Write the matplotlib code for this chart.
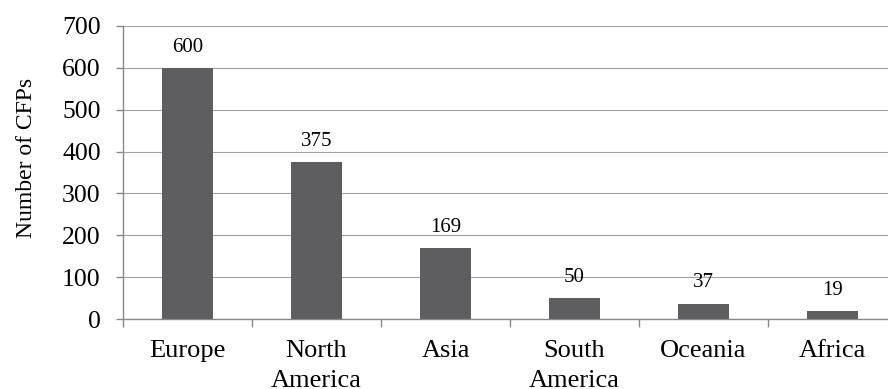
import matplotlib.pyplot as plt
import numpy as np

regions = ["Europe", "North\nAmerica", "Asia", "South\nAmerica", "Oceania", "Africa"]
cfps = [600, 375, 169, 50, 37, 19]
yticks = [0, 100, 200, 300, 400, 500, 600, 700]

plt.rcParams['font.family'] = ['Liberation Serif', 'DejaVu Serif']

fig = plt.figure(figsize=(8.88, 3.89), dpi=100)
ax = fig.add_axes([123 / 888, 70 / 389, 774 / 888, 293 / 389])

x = np.arange(len(regions))
ax.set_axisbelow(True)
ax.yaxis.grid(True, color='#a3a3a3', linewidth=0.8)
bars = ax.bar(x, cfps, width=0.4, color='#5e5e60', zorder=2)
for b, v in zip(bars, cfps):
    ax.annotate(str(v), (b.get_x() + b.get_width() / 2, v), xytext=(0, 8),
                textcoords='offset points', ha='center', va='bottom', fontsize=15)

ax.set_xlim(-0.5, len(regions) - 0.5)
ax.set_ylim(0, 700)
ax.set_yticks(yticks)
ax.tick_params(axis='y', labelsize=18.5, length=5, width=1, color='#888888', pad=11)

ax.set_xticks(x)
ax.set_xticklabels(regions, fontsize=19, linespacing=1.5)
ax.tick_params(axis='x', which='major', length=0, pad=15)
ax.set_xticks(np.arange(len(regions) + 1) - 0.5, minor=True)
ax.tick_params(axis='x', which='minor', length=6, width=1, color='#888888')

ax.set_ylabel("Number of CFPs", fontsize=17, labelpad=18, y=0.55)

for s in ['top', 'right']:
    ax.spines[s].set_visible(False)
for s in ['left', 'bottom']:
    ax.spines[s].set_color('#888888')
    ax.spines[s].set_linewidth(1)

fig.savefig("out.png", dpi=100)
